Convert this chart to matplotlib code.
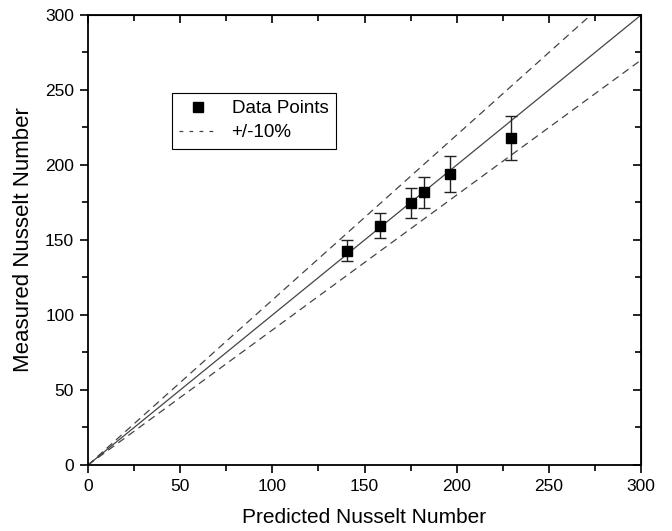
import numpy as np
import matplotlib
matplotlib.use('Agg')
import matplotlib.pyplot as plt
from matplotlib.ticker import MultipleLocator

plt.rcParams['font.family'] = ['Liberation Sans', 'DejaVu Sans']

# data
predicted = [140.7, 158.4, 175.1, 182.1, 196.4, 229.3]
measured = [142.9, 159.6, 174.4, 181.8, 194.0, 218.2]
yerr = [7.0, 8.3, 10.0, 10.3, 11.7, 14.6]

ref_x = [0, 300]
band = 0.10

fig = plt.figure(figsize=(6.72, 5.31), dpi=100)
ax = fig.add_axes([0.131, 0.1243, 0.823, 0.8475])

ax.plot(ref_x, ref_x, color='#444444', lw=0.9)
ax.plot(ref_x, [v * (1 + band) for v in ref_x], color='#444444', lw=0.9,
        ls=(0, (6, 4)))
ax.plot(ref_x, [v * (1 - band) for v in ref_x], color='#444444', lw=0.9,
        ls=(0, (6, 4)))
ax.errorbar(predicted, measured, yerr=yerr, fmt='none', ecolor='#222222',
            elinewidth=1, capsize=4, capthick=1)
ax.plot(predicted, measured, 's', color='black', ms=7)

# legend handles
h_pts, = ax.plot([], [], 's', color='black', ms=7)
h_band, = ax.plot([], [], color='#444444', lw=0.9, ls=(0, (3, 5)))

ax.set_xlim(0, 300)
ax.set_ylim(0, 300)
ax.xaxis.set_major_locator(MultipleLocator(50))
ax.xaxis.set_minor_locator(MultipleLocator(25))
ax.yaxis.set_major_locator(MultipleLocator(50))
ax.yaxis.set_minor_locator(MultipleLocator(25))
ax.tick_params(which='major', direction='out', length=6, width=1.2,
               labelsize=12.5, pad=4)
ax.tick_params(which='minor', direction='out', length=4, width=1.2)
for s in ax.spines.values():
    s.set_linewidth(1.3)

# mirrored ticks on top and right, pointing in
top = ax.secondary_xaxis('top')
top.xaxis.set_major_locator(MultipleLocator(50))
top.xaxis.set_minor_locator(MultipleLocator(25))
top.tick_params(which='both', direction='in', labeltop=False, width=1.2)
top.tick_params(which='major', length=6)
top.tick_params(which='minor', length=4)
right = ax.secondary_yaxis('right')
right.yaxis.set_major_locator(MultipleLocator(50))
right.yaxis.set_minor_locator(MultipleLocator(25))
right.tick_params(which='both', direction='in', labelright=False, width=1.2)
right.tick_params(which='major', length=6)
right.tick_params(which='minor', length=4)

ax.set_xlabel('Predicted Nusselt Number', fontsize=15, labelpad=10)
ax.set_ylabel('Measured Nusselt Number', fontsize=16, labelpad=8)

leg = ax.legend([h_pts, h_band], ['Data Points', '+/-10%'], loc='upper left',
                bbox_to_anchor=(0.151, 0.827), fontsize=13.5, fancybox=False,
                edgecolor='black', framealpha=1, borderpad=0.4,
                handlelength=2.0, handletextpad=0.8, borderaxespad=0,
                labelspacing=0.35)
leg.get_frame().set_linewidth(0.8)

fig.savefig('out.png', dpi=100)
